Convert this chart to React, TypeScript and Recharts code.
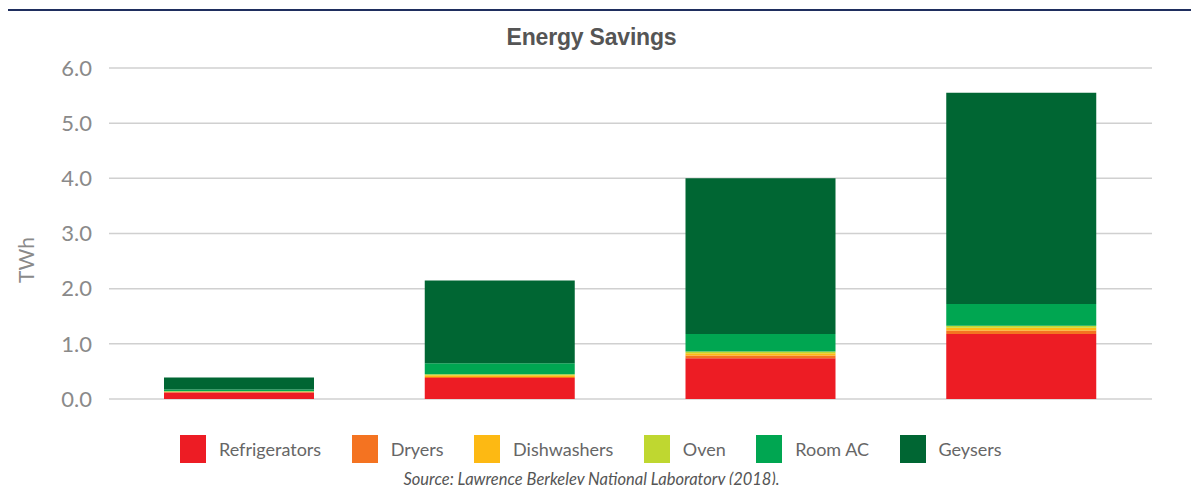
import { BarChart, Bar, XAxis, YAxis, CartesianGrid } from "recharts";

const categories = ["Phase 1", "Phase 2", "Phase 3", "Phase 4"];
const refrigerators = [0.12, 0.38, 0.74, 1.18];
const dryers = [0.005, 0.02, 0.05, 0.06];
const dishwashers = [0.01, 0.03, 0.04, 0.05];
const oven = [0.005, 0.02, 0.03, 0.04];
const roomAC = [0.03, 0.2, 0.32, 0.39];
const geysers = [0.22, 1.5, 2.82, 3.83];
const yTicks = [0, 1, 2, 3, 4, 5, 6];

const series = [
  { key: "refrigerators", name: "Refrigerators", color: "#ED1C24", values: refrigerators },
  { key: "dryers", name: "Dryers", color: "#F47321", values: dryers },
  { key: "dishwashers", name: "Dishwashers", color: "#FDB913", values: dishwashers },
  { key: "oven", name: "Oven", color: "#BFD730", values: oven },
  { key: "roomAC", name: "Room AC", color: "#00A651", values: roomAC },
  { key: "geysers", name: "Geysers", color: "#006633", values: geysers },
];

const data = categories.map((c, i) => {
  const row: Record<string, string | number> = { name: c };
  series.forEach((s) => {
    row[s.key] = s.values[i];
  });
  return row;
});

const font = "Lato, 'Open Sans', sans-serif";

export default function App() {
  return (
    <div style={{ position: "relative", width: 1199, height: 493, margin: -8, background: "#fff", overflow: "hidden", fontFamily: font }}>
      <div style={{ position: "absolute", left: 0, top: 9, width: 1199, height: 2, background: "#1F2E5E" }} />
      <div
        style={{
          position: "absolute",
          left: 0,
          top: 24,
          width: 1199,
          textAlign: "center",
          fontFamily: "'Liberation Sans Narrow', 'Arial Narrow', sans-serif",
          fontWeight: 700,
          fontSize: 23,
          color: "#555",
          letterSpacing: -0.2,
        }}
      >
        <span style={{ position: "relative", left: -8 }}>Energy Savings</span>
      </div>
      <BarChart width={1199} height={493} data={data} margin={{ top: 68, right: 47, left: 0, bottom: 94 }}>
        <CartesianGrid vertical={false} stroke="#d0d0d0" strokeWidth={1.5} />
        <XAxis dataKey="name" hide />
        <YAxis
          width={109}
          domain={[0, 6]}
          ticks={yTicks}
          tickFormatter={(v: number) => v.toFixed(1)}
          axisLine={false}
          tickLine={false}
          tickSize={6}
          tickMargin={11}
          tick={{ fontSize: 22, fill: "#8a8a8a", fontFamily: font }}
        />
        {series.map((s) => (
          <Bar key={s.key} dataKey={s.key} stackId="a" fill={s.color} barSize={150} isAnimationActive={false} />
        ))}
      </BarChart>
      <div
        style={{
          position: "absolute",
          left: 25,
          top: 260,
          transform: "translate(-50%, -50%) rotate(-90deg)",
          fontSize: 21,
          color: "#8a8a8a",
        }}
      >
        TWh
      </div>
      <div style={{ position: "absolute", left: 180, top: 435, display: "flex", alignItems: "center" }}>
        {series.map((s) => (
          <div key={s.key} style={{ display: "flex", alignItems: "center", marginRight: 30.5 }}>
            <div style={{ width: 26, height: 28, background: s.color, marginRight: 13 }} />
            <span style={{ fontSize: 18, color: "#666" }}>{s.name}</span>
          </div>
        ))}
      </div>
      <div
        style={{
          position: "absolute",
          left: 0,
          top: 469,
          width: 1199,
          textAlign: "center",
          fontStyle: "italic",
          fontSize: 16.5,
          color: "#555",
        }}
      >
        <span style={{ position: "relative", left: -8 }}>Source: Lawrence Berkeley National Laboratory (2018).</span>
      </div>
    </div>
  );
}
